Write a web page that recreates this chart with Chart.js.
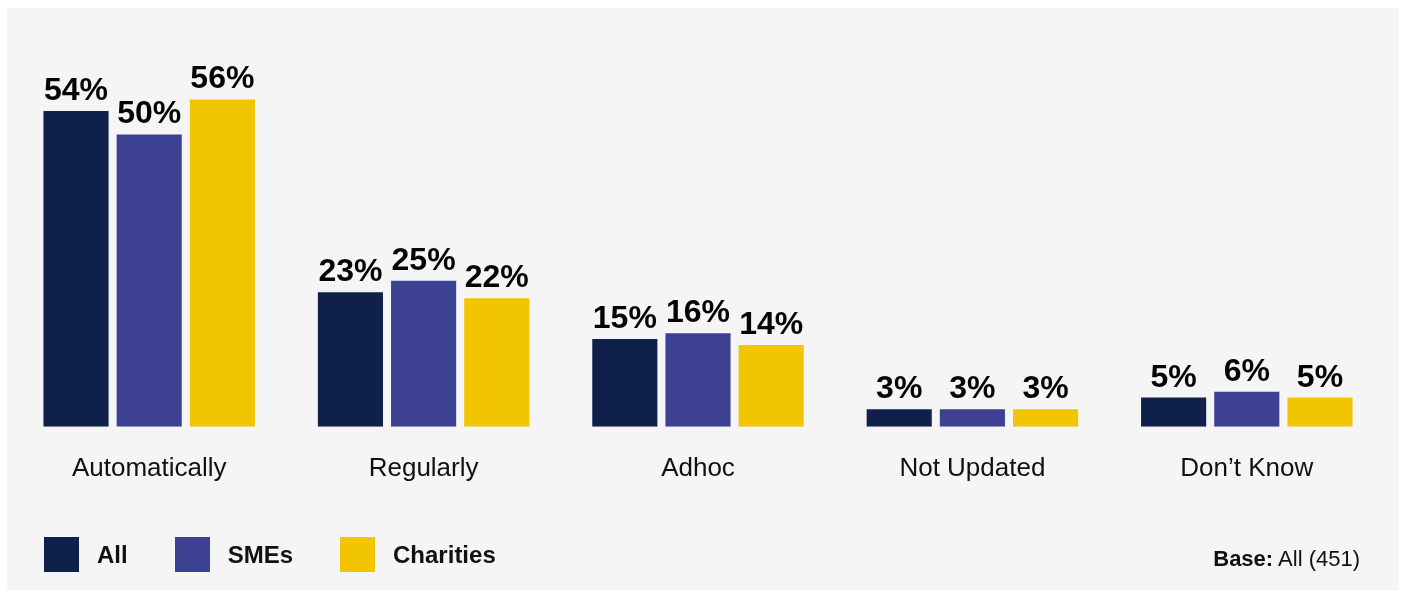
<!DOCTYPE html>
<html>
<head>
<meta charset="utf-8">
<script src="https://cdn.jsdelivr.net/npm/chart.js@4.4.1/dist/chart.umd.min.js"></script>
<style>
    html, body { margin: 0; padding: 0; background: #ffffff; }
    body { width: 1402px; height: 592px; position: relative; overflow: hidden;
           font-family: "Liberation Sans", Arial, Helvetica, sans-serif; }
    .panel { position: absolute; left: 7px; top: 8px; width: 1392px; height: 582px; background: #f5f5f5; }
    .chart-box { position: absolute; left: 0; top: 0; width: 1402px; height: 592px; }
    .legend { position: absolute; left: 44px; top: 537px; display: flex; align-items: center; }
    .legend-item { display: flex; align-items: center; margin-right: 47px; }
    .legend-swatch { width: 35px; height: 35px; margin-right: 18px; }
    .legend-text { font-size: 24px; font-weight: bold; color: #111; line-height: 35px; }
    .base-note { position: absolute; right: 42px; top: 548px; font-size: 22px; line-height: 22px; color: #111; }
    .base-note b { font-weight: bold; }
</style>
</head>
<body>
<div class="panel"></div>
<div class="chart-box"><canvas id="updateChart"></canvas></div>
<div class="legend" id="legend"></div>
<div class="base-note"><b>Base:</b> All (451)</div>

<script>
const categories = ['Automatically', 'Regularly', 'Adhoc', 'Not Updated', 'Don\u2019t Know'];
const seriesNames = ['All', 'SMEs', 'Charities'];
const allValues = [54, 23, 15, 3, 5];
const smeValues = [50, 25, 16, 3, 6];
const charityValues = [56, 22, 14, 3, 5];
const seriesColors = ['#0f214a', '#3c4291', '#f1c500'];

// percent labels above every bar
const valueLabels = {
    id: 'valueLabels',
    afterDatasetsDraw(chart) {
        const ctx = chart.ctx;
        ctx.save();
        ctx.font = 'bold 32px "Liberation Sans", Arial, Helvetica, sans-serif';
        ctx.fillStyle = '#050505';
        ctx.textAlign = 'center';
        ctx.textBaseline = 'alphabetic';
        chart.data.datasets.forEach((ds, i) => {
            chart.getDatasetMeta(i).data.forEach((bar, j) => {
                ctx.fillText(ds.data[j] + '%', bar.x, bar.y - 11);
            });
        });
        ctx.restore();
    }
};

const seriesData = [allValues, smeValues, charityValues];

const chartData = {
    labels: categories,
    datasets: seriesNames.map((name, i) => ({
        label: name,
        data: seriesData[i],
        backgroundColor: seriesColors[i],
        borderWidth: 0,
        barPercentage: 0.89,
        categoryPercentage: 0.8
    }))
};

new Chart(document.getElementById('updateChart').getContext('2d'), {
    type: 'bar',
    data: chartData,
    options: {
        responsive: true,
        maintainAspectRatio: false,
        animation: false,
        layout: { padding: { left: 12, right: 18, top: 76, bottom: 82 } },
        plugins: {
            legend: { display: false },
            tooltip: { enabled: false }
        },
        scales: {
            y: { display: false, min: 0, max: 60 },
            x: {
                grid: { display: false, drawTicks: false },
                border: { display: false },
                ticks: {
                    padding: 26,
                    color: '#111111',
                    font: { size: 26, family: '"Liberation Sans", Arial, Helvetica, sans-serif' }
                }
            }
        }
    },
    plugins: [valueLabels]
});

// legend below the plot
const legendEl = document.getElementById('legend');
seriesNames.forEach((name, i) => {
    const item = document.createElement('div');
    item.className = 'legend-item';
    const sw = document.createElement('span');
    sw.className = 'legend-swatch';
    sw.style.background = seriesColors[i];
    const txt = document.createElement('span');
    txt.className = 'legend-text';
    txt.textContent = name;
    item.appendChild(sw);
    item.appendChild(txt);
    legendEl.appendChild(item);
});
</script>
</body>
</html>
